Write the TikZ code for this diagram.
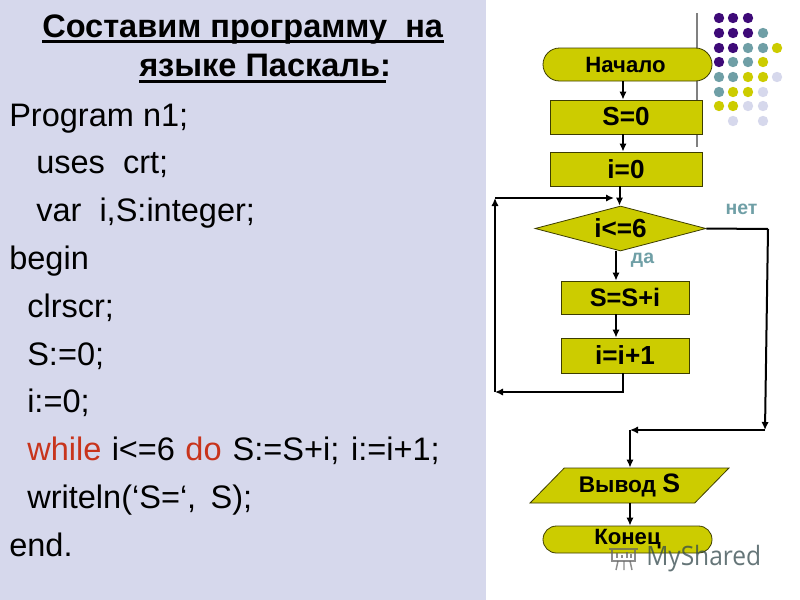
\documentclass[tikz,border=0pt]{standalone}
\usepackage{fontspec}
\setmainfont{Liberation Sans}
\newfontfamily\wmfont{Open Sans}
\usetikzlibrary{shapes.geometric,shapes.misc,arrows.meta}
\definecolor{olivefill}{HTML}{CCCC00}
\definecolor{lav}{HTML}{D6D8EC}
\definecolor{purp}{HTML}{3E0A78}
\definecolor{teal2}{HTML}{6F9FA6}
\definecolor{kw}{HTML}{C8341C}
\newcommand{\bigtxt}[1]{\fontsize{19.6}{22}\selectfont #1}
\tikzset{
  box/.style={draw=black!70!olivefill,line width=0.6pt,fill=olivefill,font=\bfseries\fontsize{16.6}{20}\selectfont,text=black,inner sep=0pt},
  procbox/.style={box,rectangle,minimum width=#1*0.75pt},
  term/.style={box,rounded rectangle,minimum width=169*0.75pt},
  flow/.style={line width=1.5pt,black,-{Latex[length=6pt,width=5.5pt]}},
  flowplain/.style={line width=1.5pt,black},
  code/.style={anchor=base west,inner sep=0pt,font=\fontsize{24.4}{28}\selectfont,text=black},
  titl/.style={anchor=base west,inner sep=0pt,font=\bfseries\fontsize{24.4}{28}\selectfont,text=black},
  lab/.style={font=\bfseries\fontsize{14.6}{16}\selectfont,text=teal2,inner sep=0pt},
  rulel/.style={line width=1.6pt,black},
}
\begin{document}
\begin{tikzpicture}[x=0.75pt,y=-0.75pt]
\useasboundingbox (0,0) rectangle (800,600);
\fill[white] (0,0) rectangle (800,600);
\fill[lav] (0,0) rectangle (486,600);
% title
\node[titl] (t1) at (42,37) {Составим программу\ \ на};
\node[titl] (t2) at (139,76) {языке Паскаль:};
\draw[rulel] (42,41.5) -- (444,41.5);
\draw[rulel] (139,81.5) -- (386,81.5);
% code
\node[code] (c1) at (9,126) {Program n1;};
\node[code] (c2) at (36,173) {uses\ \ crt;};
\node[code] (c3) at (36,221) {var\ \ i,S:integer;};
\node[code] (c4) at (9,269) {begin};
\node[code] (c5) at (27,317) {clrscr;};
\node[code] (c6) at (27,365) {S:=0;};
\node[code] (c7) at (27,412) {i:=0;};
\node[code] (c8) at (27,460) {\textcolor{kw}{while}\hspace{1pt} i<=6\hspace{1pt} \textcolor{kw}{do}\hspace{1.5pt} S:=S+i;\hspace{2pt} i:=i+1;};
\node[code] (c9) at (27,508) {writeln(‘S=‘,\hspace{4pt}\ S);};
\node[code] (c10) at (9,556) {end.};
% decoration
\draw[line width=1pt,black!50] (697,13) -- (697,147);
\foreach \cx/\cy/\cc in {
 719/18/purp,733/18/purp,748/18/purp,
 719/33/purp,733/33/purp,748/33/purp,763/33/teal2,
 719/48/purp,733/48/purp,748/48/teal2,763/48/teal2,777/48/olivefill,
 719/62/purp,733/62/teal2,748/62/teal2,763/62/olivefill,
 719/77/teal2,733/77/teal2,748/77/olivefill,763/77/olivefill,777/77/lav,
 719/92/teal2,733/92/olivefill,748/92/olivefill,763/92/lav,
 719/106/olivefill,733/106/olivefill,748/106/lav,763/106/lav,
 733/121/lav,763/121/lav}
  \fill[\cc] (\cx,\cy) circle (5.2);
% flowchart nodes
\node[term,minimum height=33*0.75pt] (start) at (627.5,64.5) {\hspace{-3pt}Начало};
\node[procbox=152,minimum height=34*0.75pt] (s0) at (626,117) {\bigtxt{S=0}};
\node[procbox=152,minimum height=34*0.75pt] (i0) at (626,169) {\bigtxt{i=0}};
\node[box,diamond,aspect=3.8,minimum width=171*0.75pt,minimum height=45*0.75pt] (cond) at (620.5,228.5) {\bigtxt{i<=6}};
\node[procbox=128,minimum height=33*0.75pt] (sum) at (625,297.5) {\fontsize{19}{22}\selectfont S=S+i};
\node[procbox=128,minimum height=35*0.75pt] (inc) at (625,355.5) {\bigtxt{i=i+1}};
\node[box,trapezium,trapezium left angle=41,trapezium right angle=139,trapezium stretches=true,minimum width=199*0.75pt,minimum height=35*0.75pt] (out) at (629.5,485.5) {\fontsize{17}{20}\selectfont Вывод \fontsize{20}{20}\selectfont S};
\node[term,minimum height=27*0.75pt] (stop) at (627.5,539.5) {\raisebox{-2pt}{Конец}};
% labels
\node[lab] (yes) at (642.5,260.5) {да};
\node[lab] (no) at (741.5,209.5) {нет};
% bends
\coordinate (lb) at (495,392);
\coordinate (lt) at (495,198);
\coordinate (lend) at (614,198);
\coordinate (rt) at (768,229);
\coordinate (rb) at (765,430);
\coordinate (rl) at (630,430);
% connectors
\draw[flow] (start.south -| 623,0) -- (s0.north -| 623,0);
\draw[flow] (s0.south -| 623,0) -- (i0.north -| 623,0);
\draw[flow] (i0.south -| 619.5,0) -- (cond.north -| 619.5,0);
\draw[flow] (cond.south -| 616,0) -- (sum.north -| 616,0);
\draw[flow] (sum.south -| 616,0) -- (inc.north -| 616,0);
\draw[flow] (inc.south -| 623,0) -- (623,392) -- (lb);
\draw[flow] (lb) -- (lt);
\draw[flow] (lt) -- (lend);
\draw[flowplain] (cond.east) -- (rt);
\draw[flow] (rt) -- (rb);
\draw[flow] (rb) -- (rl);
\draw[flow] (rl) -- (out.north -| 630,0);
\draw[flow] (out.south -| 630,0) -- (stop.north -| 630,0);
% watermark
\node[anchor=base west,inner sep=0pt,font=\wmfont\fontsize{20}{24}\selectfont,text=black!55!teal2,opacity=0.75,transform shape,xscale=0.92] (wm) at (646,565) {MyShared};
\begin{scope}[line width=1.1pt,black!60,opacity=0.75]
\draw (609,549) -- (638,549) (612,549) -- (612,561) -- (635,561) -- (635,549);
\draw (617,553) -- (617,558) (622,555) -- (622,558) (627,552) -- (627,558) (631,554) -- (631,558);
\draw (624,561) -- (624,570) (618,561) -- (616,570) (630,561) -- (632,570);
\end{scope}
\end{tikzpicture}
\end{document}
